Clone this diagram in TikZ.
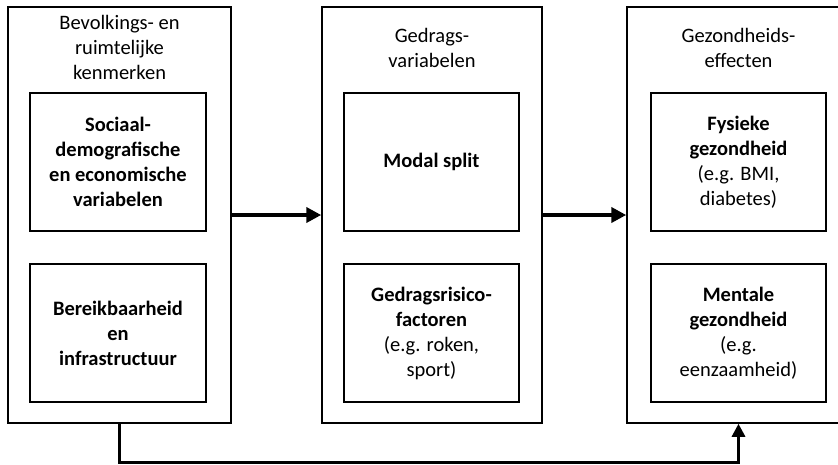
\documentclass[tikz,border=0pt]{standalone}
\usepackage{fontspec}
\setmainfont{Carlito}
\usetikzlibrary{arrows.meta}
\tikzset{
	align=center,
	group/.style={
		draw,
		rectangle,
		line width=1.5pt,
		inner sep=0pt,
		minimum width=223pt,
		minimum height=416pt,
	},
	heading/.style={
		font=\fontsize{20.5}{25}\selectfont,
	},
	factor/.style={
		draw,
		rectangle,
		line width=1.5pt,
		inner sep=0pt,
		minimum width=176pt,
		minimum height=138pt,
		font=\fontsize{20.5}{25}\selectfont,
	},
	flow/.style={
		line width=4.5pt,
		-{Triangle[length=15pt,width=15pt]}
	},
	feedback/.style={
		line width=3pt,
		-{Triangle[length=13pt,width=13pt]}
	},
}

\begin{document}
\begin{tikzpicture}[x=1pt,y=-1pt]
		\clip (0,0) rectangle (838,464);

		% the three columns
		\node[group] 		(pop) at (119.5,215) {};
		\node[group,minimum width=220pt] (beh) at (432,215) {};
		\node[group] 		(eff) at (738.5,215) {};

		\node[heading] 	(poptitle) at (119.5,47) {Bevolkings- en\\ruimtelijke\\kenmerken};
		\node[heading] 	(behtitle) at (432,48) {Gedrags-\\variabelen};
		\node[heading] 	(efftitle) at (738.5,48) {Gezondheids-\\effecten};

		% population and spatial factors
		\node[factor] 	(socdem) at (118,162) {\textbf{Sociaal-}\\\textbf{demografische}\\\textbf{en economische}\\\textbf{variabelen}};
		\node[factor] 	(access) at (118,333) {\textbf{Bereikbaarheid}\\\textbf{en}\\\textbf{infrastructuur}};

		% behaviour
		\node[factor,minimum width=175pt] (modal) at (431.5,162) {\textbf{Modal split}};
		\node[factor,minimum width=175pt] (risk) at (431.5,333) {\textbf{Gedragsrisico-}\\\textbf{factoren}\\(e.g. roken,\\sport)};

		% health
		\node[factor,minimum width=175pt] (phys) at (738.5,162) {\textbf{Fysieke}\\\textbf{gezondheid}\\(e.g. BMI,\\diabetes)};
		\node[factor,minimum width=175pt] (ment) at (738.5,333) {\textbf{Mentale}\\\textbf{gezondheid}\\(e.g.\\eenzaamheid)};

		\draw[flow] 			(pop) -- (beh);
		\draw[flow] 			(beh) -- (eff);
		\draw[feedback] 	(pop.south) -- ++(0,39) -| (eff.south);

	\end{tikzpicture}
\end{document}
